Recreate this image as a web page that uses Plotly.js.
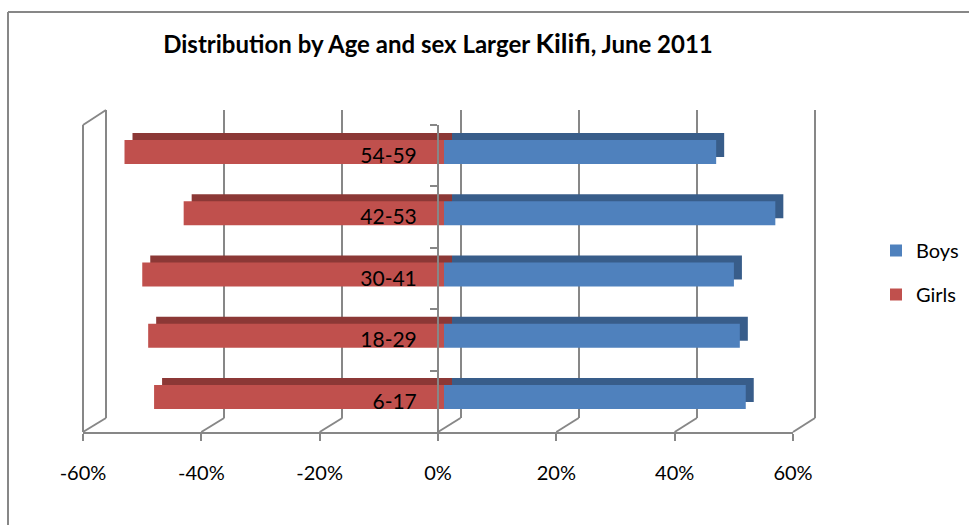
<!DOCTYPE html>
<html>
<head>
<meta charset="utf-8">
<script src="https://cdn.plot.ly/plotly-3.0.1.min.js"></script>
<style>html,body{margin:0;padding:0;background:#fff;}#chart{width:969px;height:525px;}</style>
</head>
<body>
<div id="chart"></div>
<script>
// ---- data ----
const categories = ['6-17', '18-29', '30-41', '42-53', '54-59'];
const boys  = [51, 50, 49, 56, 46];
const girls = [-49, -50, -51, -44, -54];
const tickValues = [-60, -40, -20, 0, 20, 40, 60];
const tickLabels = ['-60%', '-40%', '-20%', '0%', '20%', '40%', '60%'];
const titleText = 'Distribution by Age and sex Larger <span style="font-size:27px">Kilifi</span>, June 2011';

// ---- geometry helpers (pixel -> paper) ----
const W = 969, H = 525;
const xp = p => p / W;
const yp = p => 1 - p / H;
const FONT = 'Lato, "Open Sans", sans-serif';
const GRID = '#878787';

// front axis px extents, back wall px extents
const front = {x0: 83, x1: 793, y: 432, top: 125};
const back  = {x0: 106, x1: 815, y: 418, top: 110};
const fx = v => front.x0 + (v + 60) / 120 * (front.x1 - front.x0);
const bx = v => back.x0 + (v + 60) / 120 * (back.x1 - back.x0);
const pad = 1; // extend back-wall range so edge gridlines are drawn

const barW = 0.39;
const colors = {boys: '#4F81BD', girls: '#C0504D', boysDark: '#385D8A', girlsDark: '#8C3836'};

const traces = [
  // back wall placeholder
  {type: 'scatter', x: [], y: [], xaxis: 'x', yaxis: 'y', showlegend: false, hoverinfo: 'skip'},
  // depth (3D extrusion) bars
  {type: 'bar', orientation: 'h', y: categories, x: girls, width: barW, xaxis: 'x2', yaxis: 'y2',
   marker: {color: colors.girlsDark}, showlegend: false, hoverinfo: 'skip'},
  {type: 'bar', orientation: 'h', y: categories, x: boys, width: barW, xaxis: 'x2', yaxis: 'y2',
   marker: {color: colors.boysDark}, showlegend: false, hoverinfo: 'skip'},
  // front bars
  {type: 'bar', orientation: 'h', name: 'Girls', y: categories, x: girls, width: barW, xaxis: 'x3', yaxis: 'y3',
   marker: {color: colors.girls}, legendrank: 2, legendgroup: 'g'},
  {type: 'bar', orientation: 'h', name: 'Boys', y: categories, x: boys, width: barW, xaxis: 'x3', yaxis: 'y3',
   marker: {color: colors.boys}, legendrank: 1, legendgroup: 'b'},
  // frame axis carrier
  {type: 'scatter', mode: 'markers', y: categories, x: categories.map(() => 0), xaxis: 'x4', yaxis: 'y4',
   marker: {opacity: 0}, showlegend: false, hoverinfo: 'skip'}
];

const shapes = [
  // outer border (top and left)
  {type: 'line', xref: 'paper', yref: 'paper', x0: xp(8), y0: yp(12), x1: 1, y1: yp(12), line: {color: GRID, width: 2}},
  {type: 'line', xref: 'paper', yref: 'paper', x0: xp(8), y0: yp(12), x1: xp(8), y1: 0, line: {color: GRID, width: 2}},
  // left wall front edge and top
  {type: 'line', xref: 'paper', yref: 'paper', x0: xp(front.x0), y0: yp(front.y), x1: xp(front.x0), y1: yp(front.top), line: {color: GRID, width: 2}},
  {type: 'line', xref: 'paper', yref: 'paper', x0: xp(front.x0), y0: yp(front.top), x1: xp(back.x0), y1: yp(back.top), line: {color: GRID, width: 2}}
];
// floor diagonals at every tick
tickValues.forEach(v => {
  shapes.push({type: 'line', xref: 'paper', yref: 'paper', x0: xp(fx(v)), y0: yp(front.y), x1: xp(bx(v)), y1: yp(back.y),
    line: {color: GRID, width: 2}, layer: 'below'});
});

const layout = {
  width: W, height: H,
  margin: {l: 0, r: 0, t: 0, b: 0},
  paper_bgcolor: '#fff', plot_bgcolor: 'rgba(0,0,0,0)',
  font: {family: FONT, size: 20, color: '#000'},
  title: {text: titleText, x: xp(438), xanchor: 'center', y: yp(45), yanchor: 'middle',
          font: {family: FONT, size: 24, color: '#000', weight: 'bold'}},
  barmode: 'overlay',
  showlegend: true,
  legend: {x: xp(876), y: yp(231), xanchor: 'left', yanchor: 'top', font: {family: FONT, size: 20},
           tracegroupgap: 15, bgcolor: 'rgba(0,0,0,0)'},
  // back wall
  xaxis: {domain: [xp(bx(-60 - pad)), xp(bx(60 + pad))], range: [-60 - pad, 60 + pad], anchor: 'y', tickvals: tickValues, showticklabels: false,
          ticks: '', showgrid: true, gridcolor: GRID, gridwidth: 2, zeroline: false, showline: false, fixedrange: true},
  yaxis: {domain: [yp(back.y), yp(back.top)], range: [0, 1], anchor: 'x', visible: false, fixedrange: true},
  // depth bars
  xaxis2: {domain: [xp(97), xp(807)], range: [-60, 60], anchor: 'y2', visible: false, fixedrange: true},
  yaxis2: {domain: [yp(420.6), yp(114.4)], type: 'category', categoryorder: 'array', categoryarray: categories,
           range: [-0.5, 4.5], anchor: 'x2', visible: false, fixedrange: true},
  // front bars
  xaxis3: {domain: [xp(89), xp(799)], range: [-60, 60], anchor: 'y3', visible: false, fixedrange: true},
  yaxis3: {domain: [yp(427.6), yp(121.4)], type: 'category', categoryorder: 'array', categoryarray: categories,
           range: [-0.5, 4.5], anchor: 'x3', visible: false, fixedrange: true},
  // frame axes with labels
  xaxis4: {domain: [xp(front.x0), xp(front.x1)], range: [-60, 60], anchor: 'y4', tickvals: tickValues, ticktext: tickLabels,
           ticks: 'outside', ticklen: 7, tickwidth: 2, tickcolor: GRID, showline: true, linecolor: GRID, linewidth: 2,
           showgrid: false, zeroline: false, ticklabelstandoff: 15, tickfont: {family: FONT, size: 20, color: '#000'}, fixedrange: true},
  yaxis4: {domain: [yp(front.y), yp(front.top)], type: 'category', categoryorder: 'array', categoryarray: categories,
           range: [-0.5, 4.5], anchor: 'free', position: xp(438), side: 'left', showline: true, linecolor: GRID, linewidth: 2,
           ticks: 'outside', tickson: 'boundaries', ticklen: 7, tickwidth: 2, tickcolor: GRID, showgrid: false,
           ticklabelstandoff: 16, tickfont: {family: FONT, size: 21, color: '#000'}, fixedrange: true},
  shapes: shapes
};

Plotly.newPlot('chart', traces, layout, {displayModeBar: false, staticPlot: true});
</script>
</body>
</html>
